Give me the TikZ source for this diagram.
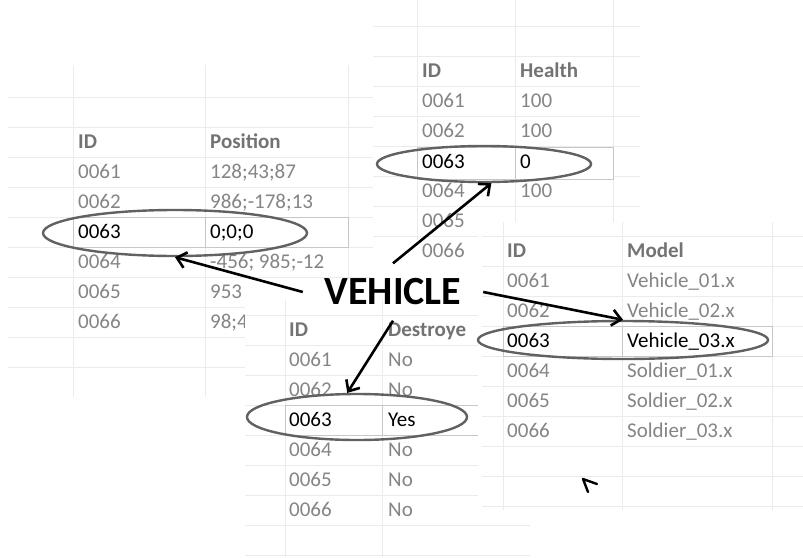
\documentclass[tikz,border=0pt]{standalone}
\usepackage{fontspec}
\setmainfont{Carlito}
\usetikzlibrary{arrows.meta,shapes.geometric}

\tikzset{
  gridline/.style={draw=black!8, line width=0.8pt},
  sheet/.style={fill=white, draw=none},
  cell/.style={anchor=mid west, inner sep=0pt, yshift=-4pt,
               font=\fontsize{21}{21}\selectfont, text=black!48},
  head/.style={cell, font=\fontsize{21}{21}\selectfont\bfseries, text=black!55},
  hot/.style={cell, text=black},
  hotbox/.style={draw=black!22, line width=0.7pt, fill=white},
  ring/.style={ellipse, draw=black!62, line width=2.4pt, inner sep=0pt},
  link/.style={draw=black, line width=2.6pt, -{Straight Barb[length=9pt,width=16pt]}},
  title/.style={font=\fontsize{40}{40}\selectfont\bfseries, inner sep=0pt,
                minimum width=180pt, minimum height=57pt},
}

\begin{document}
\begin{tikzpicture}[x=1pt,y=-1pt]
\useasboundingbox (0,0) rectangle (803,557);
\fill[white] (0,0) rectangle (803,557);

% ---- Position sheet ----
\foreach \y in {97,127,...,367} \draw[gridline] (8,\y) -- (373,\y);
\foreach \x in {73,205,348} \draw[gridline] (\x,65) -- (\x,397);
\node[head] (pos-a0) at (78,142) {ID};
\node[head] (pos-b0) at (210,142) {Position};
\foreach \r/\a/\b in {1/0061/{128;43;87}, 2/0062/{986;-178;13}, 4/0064/{-456; 985;-12}, 5/0065/{953}, 6/0066/{98;4}}{
  \node[cell] (pos-a\r) at (78,{142+30*\r}) {\a};
  \node[cell] (pos-b\r) at (210,{142+30*\r}) {\b};
}
\draw[hotbox] (73,217) rectangle (205,247);
\draw[hotbox] (205,217) rectangle (348,247);
\node[hot] (pos-a3) at (78,232) {0063};
\node[hot] (pos-b3) at (210,232) {0;0;0};

% ---- Health sheet ----
\fill[sheet] (373,0) rectangle (640,240);
\foreach \y in {26,56,...,236} \draw[gridline] (373,\y) -- (640,\y);
\foreach \x in {417,515,613} \draw[gridline] (\x,0) -- (\x,240);
\node[head] (hp-a0) at (422,71) {ID};
\node[head] (hp-b0) at (520,71) {Health};
\foreach \r/\a/\b in {1/0061/100, 2/0062/100, 4/0064/100}{
  \node[cell] (hp-a\r) at (422,{71+30*\r}) {\a};
  \node[cell] (hp-b\r) at (520,{71+30*\r}) {\b};
}
\node[cell] (hp-a5) at (422,221) {0065};
\node[cell] (hp-a6) at (422,251) {0066};
\draw[hotbox] (417,147) rectangle (515,179);
\draw[hotbox] (515,147) rectangle (613,179);
\node[hot] (hp-a3) at (422,162) {0063};
\node[hot] (hp-b3) at (520,162) {0};

% ---- Destroyed sheet ----
\fill[sheet] (245,280) rectangle (530,557);
\foreach \y in {315,345,...,555} \draw[gridline] (245,\y) -- (530,\y);
\foreach \x in {285,382} \draw[gridline] (\x,300) -- (\x,557);
\node[head] (ds-a0) at (289,330) {ID};
\node[head] (ds-b0) at (388,330) {Destroye};
\foreach \r/\a/\b in {1/0061/No, 2/0062/No, 4/0064/No, 5/0065/No, 6/0066/No}{
  \node[cell] (ds-a\r) at (289,{330+30*\r}) {\a};
  \node[cell] (ds-b\r) at (388,{330+30*\r}) {\b};
}
\draw[hotbox] (285,405) rectangle (382,435);
\draw[hotbox] (382,405) rectangle (478,435);
\node[hot] (ds-a3) at (289,420) {0063};
\node[hot] (ds-b3) at (388,420) {Yes};

% ---- Model sheet ----
\fill[sheet] (478,222) rectangle (803,510);
\foreach \y in {236,266,...,506} \draw[gridline] (482,\y) -- (803,\y);
\foreach \x in {503,622,772} \draw[gridline] (\x,222) -- (\x,510);
\node[head] (md-a0) at (507,251) {ID};
\node[head] (md-b0) at (627,251) {Model};
\foreach \r/\a/\b in {1/0061/{Vehicle\_01.x}, 2/0062/{Vehicle\_02.x}, 4/0064/{Soldier\_01.x}, 5/0065/{Soldier\_02.x}, 6/0066/{Soldier\_03.x}}{
  \node[cell] (md-a\r) at (507,{251+30*\r}) {\a};
  \node[cell] (md-b\r) at (627,{251+30*\r}) {\b};
}
\draw[hotbox] (503,326) rectangle (622,356);
\draw[hotbox] (622,326) rectangle (772,356);
\node[hot] (md-a3) at (507,341) {0063};
\node[hot] (md-b3) at (627,341) {Vehicle\_03.x};

% ---- marked records ----
\node[ring, minimum width=264pt, minimum height=46pt] (e1) at (175,233) {};
\node[ring, minimum width=214pt, minimum height=36pt] (e2) at (484,164) {};
\node[ring, minimum width=290pt, minimum height=38pt] (e3) at (623,340) {};
\node[ring, minimum width=220pt, minimum height=46pt] (e4) at (357,417) {};

% ---- entity and its links ----
\node[title] (veh) at (393,292) {VEHICLE};
\draw[link] (veh.west) -- (e1.south);
\draw[link] (veh.north) -- (e2.-69);
\draw[link] (veh.east) -- (e3.north);
\draw[link] (veh.south) -- (e4.112);

% small pen mark
\draw[black, line width=2.4pt, line cap=round, line join=round]
  (588,492) -- (583,479) -- (597,484);
\end{tikzpicture}
\end{document}
